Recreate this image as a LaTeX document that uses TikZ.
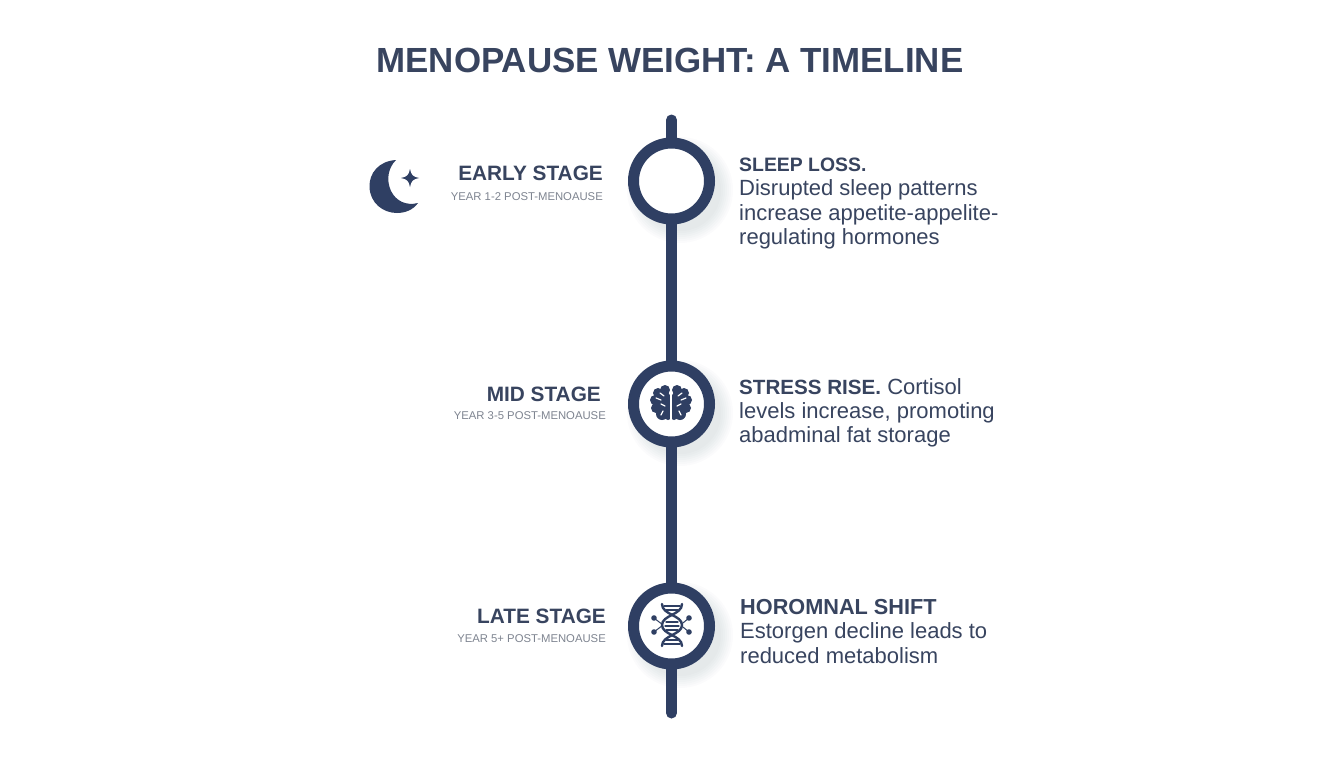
\documentclass[tikz,border=0pt]{standalone}
\usepackage{fontspec}
\setmainfont{Liberation Sans}
\definecolor{navy}{HTML}{38445F}
\definecolor{ringblue}{HTML}{2F3F63}
\definecolor{greytext}{HTML}{7E8490}
\newcommand{\headfont}[1]{\fontsize{#1}{24.4}\selectfont\bfseries}
\tikzset{
    spine/.style={draw=ringblue, line width=11pt, line cap=round},
    stagenode/.style={circle, draw=ringblue, line width=11pt, fill=white, minimum size=76pt, inner sep=0pt},
    stagelabel/.style={anchor=base east, text=navy, font=\fontsize{20.8}{24}\selectfont\bfseries, inner sep=0pt},
    yearlabel/.style={anchor=base east, text=greytext, font=\fontsize{11.3}{14}\selectfont, inner sep=0pt},
    causetext/.style={anchor=north west, align=left, text=navy, font=\fontsize{22}{24.4}\selectfont, inner sep=0pt},
    iconline/.style={draw=ringblue, line width=1.5pt, line cap=round},
}
\begin{document}
\begin{tikzpicture}[x=1pt, y=-1pt]
    \useasboundingbox (0,0) rectangle (1344,768);
    \fill[white] (0,0) rectangle (1344,768);

    \node[text=navy, font=\fontsize{34.9}{40}\selectfont\bfseries, inner sep=0pt] (title) at (670,60) {MENOPAUSE WEIGHT: A TIMELINE};

    % soft shadows
    \foreach \cy in {181,404,626} {
        \foreach \r in {53,51,...,41} {
            \fill[ringblue, opacity=0.016] (680,\cy+9) circle (\r);
        }
    }

    \coordinate (top) at (671.5,120);
    \coordinate (bottom) at (671.5,713);
    \node[stagenode] (early) at (671.5,181) {};
    \node[stagenode] (mid) at (671.5,404) {};
    \node[stagenode] (late) at (671.5,626) {};
    \draw[spine] (top) -- (early.north);
    \draw[spine] (early.south) -- (mid.north);
    \draw[spine] (mid.south) -- (late.north);
    \draw[spine] (late.south) -- (bottom);

    % left side
    \node[stagelabel] (earlylabel) at (603,180) {EARLY STAGE};
    \node[yearlabel] (earlyyear) at (603,200) {YEAR 1-2 POST-MENOAUSE};
    \node[stagelabel] (midlabel) at (601,401) {MID STAGE};
    \node[yearlabel] (midyear) at (606,419) {YEAR 3-5 POST-MENOAUSE};
    \node[stagelabel] (latelabel) at (606,623) {LATE STAGE};
    \node[yearlabel] (lateyear) at (606,642) {YEAR 5+ POST-MENOAUSE};

    % right side
    \node[causetext] (sleep) at (739,157.5) {{\headfont{19.4}SLEEP LOSS.}\\Disrupted sleep patterns\\increase appetite-appelite-\\regulating hormones};
    \node[causetext] (stress) at (739,378) {{\headfont{20.6}STRESS RISE.} Cortisol\\levels increase, promoting\\abadminal fat storage};
    \node[causetext] (shift) at (740,599) {{\headfont{21.7}HOROMNAL SHIFT}\\Estorgen decline leads to\\reduced metabolism};

    % moon
    \fill[ringblue] (396,160) .. controls (379,161) and (369,173) .. (369.5,187)
        .. controls (370,203) and (383,213) .. (397,213)
        .. controls (405,213) and (413,210) .. (418,203)
        .. controls (406,206) and (396,201) .. (391,191)
        .. controls (386,180) and (388,168) .. (396,160) -- cycle;
    \fill[ringblue] (410,169) .. controls (411,175) and (413,177) .. (419,178)
        .. controls (413,179) and (411,181) .. (410,187)
        .. controls (409,181) and (407,179) .. (401,178)
        .. controls (407,177) and (409,175) .. (410,169) -- cycle;

    % brain
    \foreach \sx in {-1,1} {
        \begin{scope}[shift={(671,403)}, xscale=\sx]
            \begin{scope}
                \clip (1.2,-20) rectangle (24,20);
                \foreach \px/\py/\pr in {6/-13/5, 13/-10/5, 16/-3/5, 15/5/5, 9/11/6, 5/2/8, 8/-4/8, 3/12/5} {
                    \fill[ringblue] (\px,\py) circle (\pr);
                }
            \end{scope}
            \draw[white, line width=1.2pt, line cap=round] (7,-7) -- (11,-10) (10,-3) -- (15,-5) (6,3) -- (10,1) (8,8) -- (10,12);
        \end{scope}
    }

    % dna
    \begin{scope}[shift={(672,625)}]
        \draw[iconline, line width=2.4pt] (-10,-21) .. controls (-10,-10) and (10,-10) .. (10,0) .. controls (10,10) and (-10,10) .. (-10,21);
        \draw[iconline, line width=2.4pt] (10,-21) .. controls (10,-10) and (-10,-10) .. (-10,0) .. controls (-10,10) and (10,10) .. (10,21);
        \foreach \ry/\rw in {-19/8, -15/6, -3/6, 1/7, 5/6, 15/6, 19/8} {
            \draw[iconline, line width=1.3pt] (-\rw,\ry) -- (\rw,\ry);
        }
        \foreach \dx/\dy in {-18/-7, -18/7, 17/-7, 17/7} {
            \fill[ringblue] (\dx,\dy) circle (2.8);
            \draw[iconline, line width=1pt] (\dx,\dy) -- (0.6*\dx,0.2*\dy);
        }
    \end{scope}
\end{tikzpicture}
\end{document}
